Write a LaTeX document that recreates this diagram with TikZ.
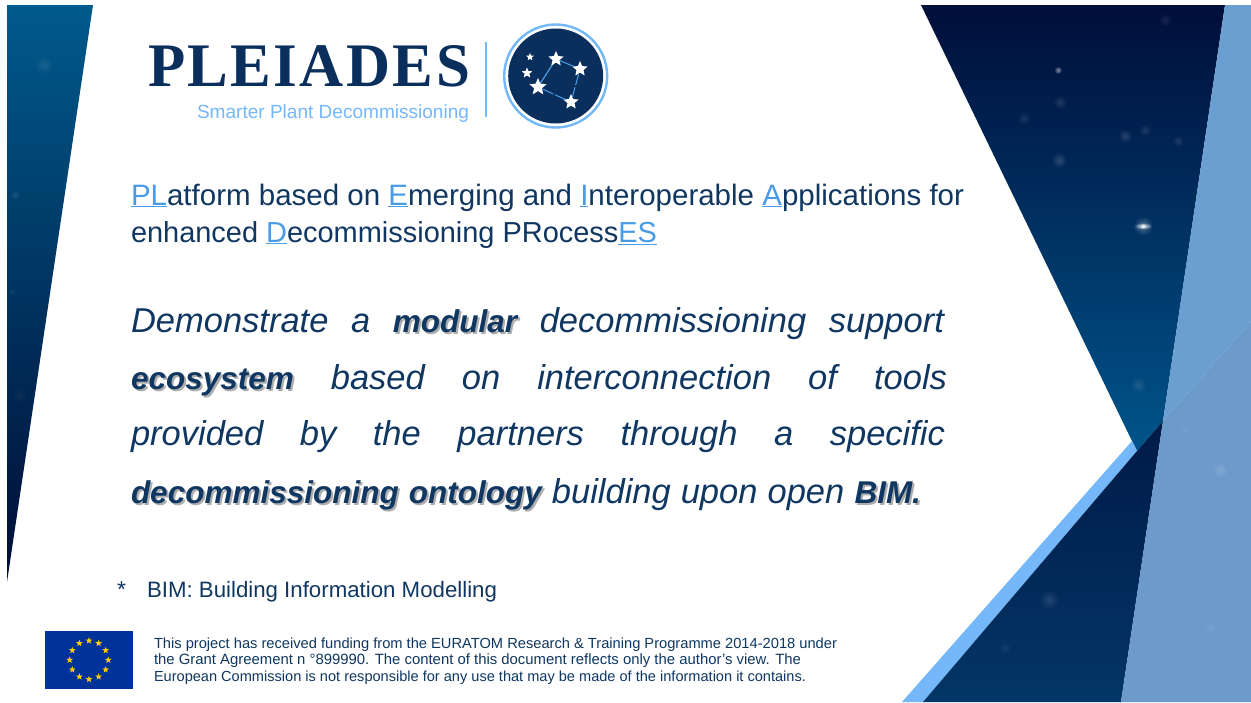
\documentclass[tikz,border=0pt]{standalone}
\usepackage{fontspec}
\usepackage{graphicx}
\setmainfont{Liberation Sans}
\newfontfamily\logoserif[LetterSpace=4]{Liberation Serif}
\usetikzlibrary{shapes.geometric,fadings,calc}
\definecolor{ink}{HTML}{0F3761}
\definecolor{linkblue}{HTML}{4A9BE6}
\definecolor{sky}{HTML}{74B8F9}
\definecolor{navy}{HTML}{0B2F5C}
\definecolor{flagblue}{HTML}{003399}
\definecolor{flagstar}{HTML}{FFCC00}
\definecolor{lightA}{HTML}{6C9FD1}
\definecolor{lightB}{HTML}{6B9ACB}
\tikzfading[name=glow, inner color=transparent!15, outer color=transparent!100]
\newcommand{\lk}[1]{{\color{linkblue}\underline{#1}}}
\newcommand{\fit}[2]{\resizebox{#1pt}{!}{#2}}
\newcommand{\just}[2]{\makebox[#1pt][s]{#2}}
\newcommand{\hl}[1]{{\fontsize{31.5}{33}\selectfont\rlap{\kern2pt\raisebox{-2.4pt}{\color{black!32}\textbf{\textit{#1}}}}\textbf{\textit{#1}}}}
\tikzset{
  txt/.style={anchor=base west,inner sep=0pt,outer sep=0pt,text=ink},
  starn/.style={star,star points=5,star point ratio=2.2,fill=white,inner sep=0pt,minimum size=#1},
  flagn/.style={star,star points=5,star point ratio=2.4,fill=flagstar,inner sep=0pt,minimum size=7pt},
}
\newcommand{\glow}[4]{\fill[white,path fading=glow,opacity=#4] (#1,#2) ellipse (#3pt and #3pt);}
\begin{document}
\begin{tikzpicture}[x=1pt,y=-1pt]
\useasboundingbox (0,0) rectangle (1251,702);
\fill[white] (0,0) rectangle (1251,702);
% left wedge
\shade[top color={rgb,255:red,0;green,90;blue,140},bottom color={rgb,255:red,0;green,13;blue,52}] (7,5) -- (93,5) -- (7,582) -- cycle;
% upper dark
\shade[top color={rgb,255:red,0;green,14;blue,58},bottom color={rgb,255:red,0;green,84;blue,138}] (921,5) -- (1225,5) -- (1163,421) -- (1137,451) -- (1132,441) -- cycle;
% band
\fill[sky] (1132,441) -- (1137,451) -- (923,702) -- (902,702) -- cycle;
% lower dark
\shade[top color={rgb,255:red,0;green,26;blue,72},bottom color={rgb,255:red,3;green,54;blue,102}] (1137,451) -- (1163,421) -- (1121,702) -- (923,702) -- cycle;
% light facets
\fill[lightA] (1225,5) -- (1251,5) -- (1251,322) -- (1163,421) -- cycle;
\fill[lightB] (1163,421) -- (1251,322) -- (1251,702) -- (1121,702) -- cycle;
% star glows
\fill[white,path fading=glow] (1143,226) ellipse (9pt and 3.5pt);
\glow{1143}{226}{10}{.35}\glow{1143}{226}{3}{1}
\glow{1058}{70}{4}{.6}\glow{1060}{102}{7}{.15}\glow{1024}{118}{7}{.12}\glow{1059}{160}{8}{.2}
\glow{1125}{136}{7}{.18}\glow{1145}{130}{6}{.14}\glow{1178}{141}{6}{.14}\glow{1165}{20}{7}{.1}
\glow{1138}{385}{8}{.15}\glow{1049}{600}{10}{.15}\glow{1005}{648}{6}{.08}\glow{1220}{470}{8}{.18}\glow{1184}{430}{5}{.08}\glow{1210}{628}{7}{.08}
\glow{44}{65}{9}{.1}\glow{15}{195}{5}{.12}\glow{12}{292}{4}{.08}\glow{20}{395}{8}{.05}
% logo
\node[txt,text=navy] (logoword) at (148,86) {\resizebox{322pt}{41pt}{\logoserif\bfseries\fontsize{62}{62}\selectfont PLEIADES}};
\node[txt,text=sky] (logotag) at (197,118) {\fit{272}{\fontsize{18}{18}\selectfont Smarter Plant Decommissioning}};
\coordinate (bartop) at (486,42);
\coordinate (barbot) at (486,117);
\draw[sky,line width=2pt] (bartop) -- (barbot);
\node[circle,draw=sky,line width=2.4pt,minimum size=103pt,inner sep=0pt] (ring) at (555.7,76) {};
\node[circle,fill=navy,minimum size=95pt,inner sep=0pt] (disc) at (555.7,76) {};
\draw[linkblue,line width=1.2pt] (556,59) coordinate (c1) -- (538,87) coordinate (c3);
\node[starn=16pt] (s1) at (c1) {};
\node[starn=16pt] (s2) at (580,69) {};
\node[starn=18pt] (s3) at (c3) {};
\node[starn=16pt] (s4) at (571,102) {};
\node[starn=8pt] (s5) at (530,57) {};
\node[starn=11pt] (s6) at (527,73) {};
\draw[linkblue,line width=1pt] (s1) -- (s2);
\draw[linkblue,line width=1pt,dash pattern=on 12pt off 2pt] (s2) -- (s4);
\draw[linkblue,line width=1pt,dash pattern=on 12pt off 2pt] (s3) -- (s4);
% heading
\node[txt] (h1) at (131,205) {\fit{833}{\fontsize{28}{28}\selectfont\lk{PL}atform based on \lk{E}merging and \lk{I}nteroperable \lk{A}pplications for}};
\node[txt] (h2) at (131,242) {\fit{526}{\fontsize{28}{28}\selectfont enhanced \lk{D}ecommissioning PRocess\lk{ES}}};
% body
\node[txt] (b1) at (131,332) {\just{813}{\fontsize{34.5}{33}\selectfont\itshape Demonstrate a \hl{modular} decommissioning support}};
\node[txt] (b2) at (131,389) {\just{816}{\fontsize{34.5}{33}\selectfont\itshape \hl{ecosystem} based on interconnection of tools}};
\node[txt] (b3) at (131,445) {\just{814}{\fontsize{34.5}{33}\selectfont\itshape provided by the partners through a specific}};
\node[txt] (b4) at (131,503) {\just{790}{\fontsize{34.5}{33}\selectfont\itshape \hl{decommissioning} \hl{ontology} building upon open \hl{BIM.}}};
% footnote
\node[txt] (ast) at (117,597) {\fontsize{23}{23}\selectfont *};
\node[txt] (bim) at (147,597) {\fit{350}{\fontsize{23}{23}\selectfont BIM: Building Information Modelling}};
% flag
\node[fill=flagblue,minimum width=88pt,minimum height=58pt,inner sep=0pt] (flag) at (89,660) {};
\foreach \a in {0,30,...,330}{\node[flagn] (fs\a) at ($(89,660)+(\a:19.3)$) {};}
% funding
\node[txt] (f1) at (154,648) {\fit{683}{\fontsize{14}{14}\selectfont This project has received funding from the EURATOM Research \& Training Programme 2014-2018 under}};
\node[txt] (f2) at (154,664) {\fit{647}{\fontsize{14}{14}\selectfont the Grant Agreement n °899990. The content of this document reflects only the author’s view. The}};
\node[txt] (f3) at (154,681) {\fit{652}{\fontsize{14}{14}\selectfont European Commission is not responsible for any use that may be made of the information it contains.}};
\end{tikzpicture}
\end{document}
